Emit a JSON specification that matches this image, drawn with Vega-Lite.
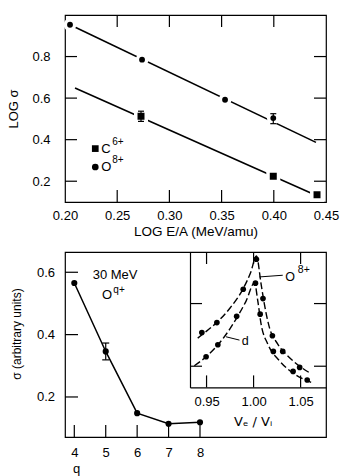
{
  "$schema": "https://vega.github.io/schema/vega-lite/v6.json",
  "background": "white",
  "padding": {"left": 7, "top": 12, "right": 4, "bottom": 0},
  "spacing": 11,
  "config": {
    "font": "Liberation Sans",
    "view": {"stroke": "black", "strokeWidth": 1.2},
    "axis": {
      "domain": false, "grid": false, "ticks": false,
      "labelColor": "black", "titleColor": "black", "titleFontWeight": "normal",
      "labelFontSize": 13, "titleFontSize": 13, "minExtent": 0, "labelFlush": false,
      "labelFont": "Liberation Sans", "titleFont": "Liberation Sans"
    },
    "text": {"color": "black", "font": "Liberation Sans"},
    "tick": {"color": "black", "thickness": 1.2, "opacity": 1},
    "rule": {"color": "black", "strokeWidth": 1.2}
  },
  "vconcat": [
    {
      "width": 261,
      "height": 187,
      "layer": [
        {
          "data": {"values": [
            {"s": "O8+", "x": 0.2048, "y": 0.953, "x2": 0.4404, "y2": 0.387},
            {"s": "C6+", "x": 0.2096, "y": 0.649, "x2": 0.4414, "y2": 0.13}
          ]},
          "mark": {"type": "rule", "color": "black", "strokeWidth": 1.6},
          "encoding": {
            "x": {"field": "x", "type": "quantitative", "scale": {"domain": [0.2, 0.45], "nice": false, "zero": false},
                  "axis": {"orient": "top", "labels": false, "title": null, "grid": false}},
            "x2": {"field": "x2"},
            "y": {"field": "y", "type": "quantitative", "scale": {"domain": [0.1, 1.0], "nice": false, "zero": false},
                  "axis": {"orient": "right", "labels": false, "title": null, "grid": false}},
            "y2": {"field": "y2"}
          }
        },
        {
          "data": {"values": [
            {"s": "O8+", "x": 0.2048, "y": 0.953},
            {"s": "O8+", "x": 0.2738, "y": 0.785},
            {"s": "O8+", "x": 0.3533, "y": 0.592},
            {"s": "O8+", "x": 0.3995, "y": 0.504},
            {"s": "C6+", "x": 0.2728, "y": 0.5125},
            {"s": "C6+", "x": 0.3995, "y": 0.224},
            {"s": "C6+", "x": 0.4414, "y": 0.135}
          ]},
          "mark": {"type": "point", "filled": true, "opacity": 1, "stroke": "white", "strokeWidth": 3.5, "strokeOpacity": 1},
          "encoding": {
            "x": {"field": "x", "type": "quantitative",
                  "axis": {"orient": "bottom", "values": [0.2, 0.25, 0.3, 0.35, 0.4, 0.45], "format": ".2f", "grid": false,
                           "title": "LOG E/A (MeV/amu)", "labelPadding": 7, "titlePadding": 2, "titleFontSize": 13.5}},
            "y": {"field": "y", "type": "quantitative",
                  "axis": {"orient": "left", "values": [0.2, 0.4, 0.6, 0.8], "format": ".1f", "grid": false,
                           "title": "LOG σ", "labelPadding": 15, "titlePadding": 11}},
            "shape": {"field": "s", "type": "nominal", "scale": {"domain": ["C6+", "O8+"], "range": ["square", "circle"]}, "legend": null},
            "size": {"field": "s", "type": "nominal", "scale": {"domain": ["C6+", "O8+"], "range": [110, 87]}, "legend": null},
            "color": {"value": "black"}
          }
        },
        {
          "data": {"values": [
            {"x": 0.3995, "lo": 0.477, "hi": 0.525},
            {"x": 0.2728, "lo": 0.488, "hi": 0.537}
          ]},
          "layer": [
            {
              "mark": {"type": "rule", "color": "black", "strokeWidth": 1.2},
              "encoding": {
                "x": {"field": "x", "type": "quantitative", "axis": null},
                "y": {"field": "lo", "type": "quantitative", "axis": null},
                "y2": {"field": "hi"}
              }
            },
            {
              "transform": [{"fold": ["lo", "hi"], "as": ["end", "v"]}],
              "mark": {"type": "tick", "orient": "horizontal", "color": "black", "size": 6, "thickness": 1.2},
              "encoding": {
                "x": {"field": "x", "type": "quantitative", "axis": null},
                "y": {"field": "v", "type": "quantitative", "axis": null}
              }
            }
          ]
        },
        {
          "data": {"values": [
            {"s": "C6+", "x": 0.229, "y": 0.357, "base": "C", "sup": "6+"},
            {"s": "O8+", "x": 0.229, "y": 0.2685, "base": "O", "sup": "8+"}
          ]},
          "layer": [
            {
              "mark": {"type": "point", "filled": true, "opacity": 1, "size": 45, "color": "black"},
              "encoding": {
                "x": {"field": "x", "type": "quantitative", "axis": null},
                "y": {"field": "y", "type": "quantitative", "axis": null},
                "shape": {"field": "s", "type": "nominal", "legend": null}
              }
            },
            {
              "mark": {"type": "text", "align": "left", "baseline": "middle", "dx": 6, "fontSize": 13},
              "encoding": {
                "x": {"field": "x", "type": "quantitative", "axis": null},
                "y": {"field": "y", "type": "quantitative", "axis": null},
                "text": {"field": "base"}
              }
            },
            {
              "mark": {"type": "text", "align": "left", "baseline": "middle", "dx": 17, "dy": -7, "fontSize": 10},
              "encoding": {
                "x": {"field": "x", "type": "quantitative", "axis": null},
                "y": {"field": "y", "type": "quantitative", "axis": null},
                "text": {"field": "sup"}
              }
            }
          ]
        },
        {
          "data": {"values": [{"x": 0.25, "y": 0.1}, {"x": 0.3, "y": 0.1}, {"x": 0.35, "y": 0.1}, {"x": 0.4, "y": 0.1}]},
          "mark": {"type": "rule", "color": "black", "strokeWidth": 1.2, "y2Offset": -12},
          "encoding": {
            "x": {"field": "x", "type": "quantitative", "axis": null},
            "y": {"field": "y", "type": "quantitative", "axis": null},
            "y2": {"field": "y"}
          }
        },
        {
          "data": {"values": [{"x": 0.25, "y": 1.0}, {"x": 0.3, "y": 1.0}, {"x": 0.35, "y": 1.0}, {"x": 0.4, "y": 1.0}]},
          "mark": {"type": "rule", "color": "black", "strokeWidth": 1.2, "y2Offset": 12},
          "encoding": {
            "x": {"field": "x", "type": "quantitative", "axis": null},
            "y": {"field": "y", "type": "quantitative", "axis": null},
            "y2": {"field": "y"}
          }
        },
        {
          "data": {"values": [{"x": 0.2, "y": 0.2}, {"x": 0.2, "y": 0.4}, {"x": 0.2, "y": 0.6}, {"x": 0.2, "y": 0.8}]},
          "mark": {"type": "rule", "color": "black", "strokeWidth": 1.2, "x2Offset": 12},
          "encoding": {
            "x": {"field": "x", "type": "quantitative", "axis": null},
            "x2": {"field": "x"},
            "y": {"field": "y", "type": "quantitative", "axis": null}
          }
        },
        {
          "data": {"values": [{"x": 0.45, "y": 0.2}, {"x": 0.45, "y": 0.4}, {"x": 0.45, "y": 0.6}, {"x": 0.45, "y": 0.8}]},
          "mark": {"type": "rule", "color": "black", "strokeWidth": 1.2, "x2Offset": -12},
          "encoding": {
            "x": {"field": "x", "type": "quantitative", "axis": null},
            "x2": {"field": "x"},
            "y": {"field": "y", "type": "quantitative", "axis": null}
          }
        }
      ]
    },
    {
      "width": 261,
      "height": 185,
      "resolve": {"scale": {"x": "independent", "y": "independent"}},
      "layer": [
        {
          "layer": [
            {
              "data": {"values": [
                {"q": 4, "s": 0.5655}, {"q": 5, "s": 0.346}, {"q": 6, "s": 0.148}, {"q": 7, "s": 0.114}, {"q": 8, "s": 0.119}
              ]},
              "mark": {"type": "point", "filled": true, "opacity": 1, "color": "black", "size": 38},
              "encoding": {
                "x": {"field": "q", "type": "quantitative", "scale": {"domain": [3.704, 12.01], "nice": false, "zero": false},
                      "axis": {"orient": "top", "labels": false, "title": null, "grid": false}},
                "y": {"field": "s", "type": "quantitative", "scale": {"domain": [0.0716, 0.665], "nice": false, "zero": false},
                      "axis": {"orient": "right", "labels": false, "title": null, "grid": false}}
              }
            },
            {
              "data": {"values": [
                {"q": 4, "s": 0.5655}, {"q": 5, "s": 0.346}, {"q": 6, "s": 0.148}, {"q": 7, "s": 0.114}, {"q": 8, "s": 0.119}
              ]},
              "mark": {"type": "line", "color": "black", "strokeWidth": 1.5},
              "encoding": {
                "x": {"field": "q", "type": "quantitative",
                      "axis": {"orient": "bottom", "values": [4, 5, 6, 7, 8], "format": "d", "title": "q", "grid": false,
                               "labelPadding": 9, "titleX": 11, "titleY": 35, "titleAlign": "center", "titleBaseline": "alphabetic"}},
                "y": {"field": "s", "type": "quantitative",
                      "axis": {"orient": "left", "values": [0.2, 0.4, 0.6], "format": ".1f", "title": "σ (arbitrary units)", "grid": false,
                               "labelPadding": 10.5, "titleX": -49, "titleY": 81.5, "titleBaseline": "middle",
                               "titleAlign": "center", "titleAngle": -90, "titleFontSize": 12}}
              }
            },
            {
              "data": {"values": [{"q": 5, "lo": 0.319, "hi": 0.373}]},
              "layer": [
                {
                  "mark": {"type": "rule", "color": "black", "strokeWidth": 1.2},
                  "encoding": {
                    "x": {"field": "q", "type": "quantitative", "axis": null},
                    "y": {"field": "lo", "type": "quantitative", "axis": null},
                    "y2": {"field": "hi"}
                  }
                },
                {
                  "transform": [{"fold": ["lo", "hi"], "as": ["end", "v"]}],
                  "mark": {"type": "tick", "orient": "horizontal", "color": "black", "size": 7, "thickness": 1.2},
                  "encoding": {
                    "x": {"field": "q", "type": "quantitative", "axis": null},
                    "y": {"field": "v", "type": "quantitative", "axis": null}
                  }
                }
              ]
            },
            {
              "data": {"values": [
                {"q": 4.586, "s": 0.591, "base": "30 MeV", "sup": ""},
                {"q": 4.882, "s": 0.526, "base": "O", "sup": "q+"}
              ]},
              "layer": [
                {
                  "mark": {"type": "text", "align": "left", "baseline": "middle", "fontSize": 13},
                  "encoding": {
                    "x": {"field": "q", "type": "quantitative", "axis": null},
                    "y": {"field": "s", "type": "quantitative", "axis": null},
                    "text": {"field": "base"}
                  }
                },
                {
                  "mark": {"type": "text", "align": "left", "baseline": "middle", "dx": 11.3, "dy": -5, "fontSize": 10},
                  "encoding": {
                    "x": {"field": "q", "type": "quantitative", "axis": null},
                    "y": {"field": "s", "type": "quantitative", "axis": null},
                    "text": {"field": "sup"}
                  }
                }
              ]
            },
            {
              "data": {"values": [{"q": 4, "s": 0.0716}, {"q": 5, "s": 0.0716}, {"q": 6, "s": 0.0716}, {"q": 7, "s": 0.0716}, {"q": 8, "s": 0.0716}]},
              "mark": {"type": "rule", "color": "black", "strokeWidth": 1.2, "y2Offset": -12},
              "encoding": {
                "x": {"field": "q", "type": "quantitative", "axis": null},
                "y": {"field": "s", "type": "quantitative", "axis": null},
                "y2": {"field": "s"}
              }
            },
            {
              "data": {"values": [{"q": 3.704, "s": 0.2}, {"q": 3.704, "s": 0.4}, {"q": 3.704, "s": 0.6}]},
              "mark": {"type": "rule", "color": "black", "strokeWidth": 1.2, "x2Offset": 13},
              "encoding": {
                "x": {"field": "q", "type": "quantitative", "axis": null},
                "x2": {"field": "q"},
                "y": {"field": "s", "type": "quantitative", "axis": null}
              }
            }
          ]
        },
        {
          "layer": [
            {
              "data": {"values": [
                {"c": "O8+", "v": 0.9406, "w": 1.449},
                {"c": "O8+", "v": 0.95, "w": 1.56},
                {"c": "O8+", "v": 0.961, "w": 1.70},
                {"c": "O8+", "v": 0.975, "w": 1.93},
                {"c": "O8+", "v": 0.989, "w": 2.24},
                {"c": "O8+", "v": 0.997, "w": 2.50},
                {"c": "O8+", "v": 1.003, "w": 2.76},
                {"c": "O8+", "v": 1.008, "w": 2.31},
                {"c": "O8+", "v": 1.0115, "w": 1.99},
                {"c": "O8+", "v": 1.0168, "w": 1.62},
                {"c": "O8+", "v": 1.0257, "w": 1.354},
                {"c": "O8+", "v": 1.038, "w": 1.14},
                {"c": "O8+", "v": 1.059, "w": 0.90},
                {"c": "d", "v": 0.937, "w": 1.008},
                {"c": "d", "v": 0.9495, "w": 1.15},
                {"c": "d", "v": 0.962, "w": 1.34},
                {"c": "d", "v": 0.975, "w": 1.6},
                {"c": "d", "v": 0.984, "w": 1.82},
                {"c": "d", "v": 0.992, "w": 2.04},
                {"c": "d", "v": 1.001, "w": 2.33},
                {"c": "d", "v": 1.0045, "w": 2.04},
                {"c": "d", "v": 1.008, "w": 1.672},
                {"c": "d", "v": 1.0151, "w": 1.354},
                {"c": "d", "v": 1.0274, "w": 1.088},
                {"c": "d", "v": 1.0434, "w": 0.876},
                {"c": "d", "v": 1.0612, "w": 0.742}
              ]},
              "mark": {"type": "line", "color": "black", "strokeWidth": 1.4, "strokeDash": [7, 3], "interpolate": "monotone"},
              "encoding": {
                "x": {"field": "v", "type": "quantitative", "scale": {"domain": [0.9324, 1.077], "range": [125, 261], "nice": false, "zero": false},
                      "axis": {"orient": "bottom", "offset": -49.6, "values": [0.95, 1.0, 1.05], "format": ".2f", "grid": false,
                               "labelPadding": 8,
                               "domain": true, "domainColor": "black", "domainWidth": 1.2,
                               "title": "Vₑ / Vᵢ", "titleFont": "DejaVu Sans", "titleFontSize": 13,
                               "titleX": 187.7, "titleY": 38, "titleBaseline": "alphabetic", "titleAlign": "center"}},
                "y": {"field": "w", "type": "quantitative", "scale": {"domain": [0.662, 2.823], "range": [135.4, 0], "nice": false, "zero": false},
                      "axis": {"orient": "left", "offset": -125, "labels": false, "title": null, "grid": false,
                               "domain": true, "domainColor": "black", "domainWidth": 1.2}},
                "detail": {"field": "c"}
              }
            },
            {
              "data": {"values": [
                {"c": "O8+", "v": 0.945, "w": 1.538},
                {"c": "O8+", "v": 0.961, "w": 1.697},
                {"c": "O8+", "v": 0.989, "w": 2.229},
                {"c": "O8+", "v": 1.003, "w": 2.707},
                {"c": "O8+", "v": 1.010, "w": 2.080},
                {"c": "O8+", "v": 1.020, "w": 1.486},
                {"c": "O8+", "v": 1.031, "w": 1.236},
                {"c": "O8+", "v": 1.049, "w": 0.981},
                {"c": "d", "v": 0.9495, "w": 1.151},
                {"c": "d", "v": 0.962, "w": 1.342},
                {"c": "d", "v": 0.982, "w": 1.796},
                {"c": "d", "v": 1.002, "w": 2.325},
                {"c": "d", "v": 1.007, "w": 1.831},
                {"c": "d", "v": 1.021, "w": 1.236},
                {"c": "d", "v": 1.042, "w": 0.917},
                {"c": "d", "v": 1.057, "w": 0.780}
              ]},
              "mark": {"type": "point", "filled": true, "opacity": 1, "color": "black", "size": 32},
              "encoding": {
                "x": {"field": "v", "type": "quantitative",
                      "axis": {"orient": "top", "labels": false, "title": null, "grid": false}},
                "y": {"field": "w", "type": "quantitative",
                      "axis": {"orient": "right", "labels": false, "title": null, "grid": false}}
              }
            },
            {
              "data": {"values": [
                {"v": 1.0062, "w": 2.425, "v2": 1.031, "w2": 2.452},
                {"v": 0.9707, "w": 1.470, "v2": 0.985, "w2": 1.417}
              ]},
              "mark": {"type": "rule", "color": "black", "strokeWidth": 1},
              "encoding": {
                "x": {"field": "v", "type": "quantitative", "axis": null},
                "x2": {"field": "v2"},
                "y": {"field": "w", "type": "quantitative", "axis": null},
                "y2": {"field": "w2"}
              }
            },
            {
              "data": {"values": [
                {"v": 1.0338, "w": 2.425, "base": "O", "sup": "8+"},
                {"v": 0.9875, "w": 1.406, "base": "d", "sup": ""}
              ]},
              "layer": [
                {
                  "mark": {"type": "text", "align": "left", "baseline": "middle", "fontSize": 12.5},
                  "encoding": {
                    "x": {"field": "v", "type": "quantitative", "axis": null},
                    "y": {"field": "w", "type": "quantitative", "axis": null},
                    "text": {"field": "base"}
                  }
                },
                {
                  "mark": {"type": "text", "align": "left", "baseline": "middle", "dx": 12.5, "dy": -6.5, "fontSize": 10.5},
                  "encoding": {
                    "x": {"field": "v", "type": "quantitative", "axis": null},
                    "y": {"field": "w", "type": "quantitative", "axis": null},
                    "text": {"field": "sup"}
                  }
                }
              ]
            },
            {
              "data": {"values": [{"v": 0.95, "w": 0.662}, {"v": 1.0, "w": 0.662}, {"v": 1.05, "w": 0.662}]},
              "mark": {"type": "rule", "color": "black", "strokeWidth": 1.2, "y2Offset": -12},
              "encoding": {
                "x": {"field": "v", "type": "quantitative", "axis": null},
                "y": {"field": "w", "type": "quantitative", "axis": null},
                "y2": {"field": "w"}
              }
            },
            {
              "data": {"values": [{"v": 0.95, "w": 2.823}, {"v": 1.0, "w": 2.823}, {"v": 1.05, "w": 2.823}]},
              "mark": {"type": "rule", "color": "black", "strokeWidth": 1.2, "y2Offset": 12},
              "encoding": {
                "x": {"field": "v", "type": "quantitative", "axis": null},
                "y": {"field": "w", "type": "quantitative", "axis": null},
                "y2": {"field": "w"}
              }
            },
            {
              "data": {"values": [{"v": 0.9324, "w": 1}, {"v": 0.9324, "w": 2}]},
              "mark": {"type": "rule", "color": "black", "strokeWidth": 1.2, "x2Offset": 12},
              "encoding": {
                "x": {"field": "v", "type": "quantitative", "axis": null},
                "x2": {"field": "v"},
                "y": {"field": "w", "type": "quantitative", "axis": null}
              }
            },
            {
              "data": {"values": [{"v": 1.077, "w": 1}, {"v": 1.077, "w": 2}]},
              "mark": {"type": "rule", "color": "black", "strokeWidth": 1.2, "x2Offset": -12},
              "encoding": {
                "x": {"field": "v", "type": "quantitative", "axis": null},
                "x2": {"field": "v"},
                "y": {"field": "w", "type": "quantitative", "axis": null}
              }
            }
          ]
        }
      ]
    }
  ]
}
